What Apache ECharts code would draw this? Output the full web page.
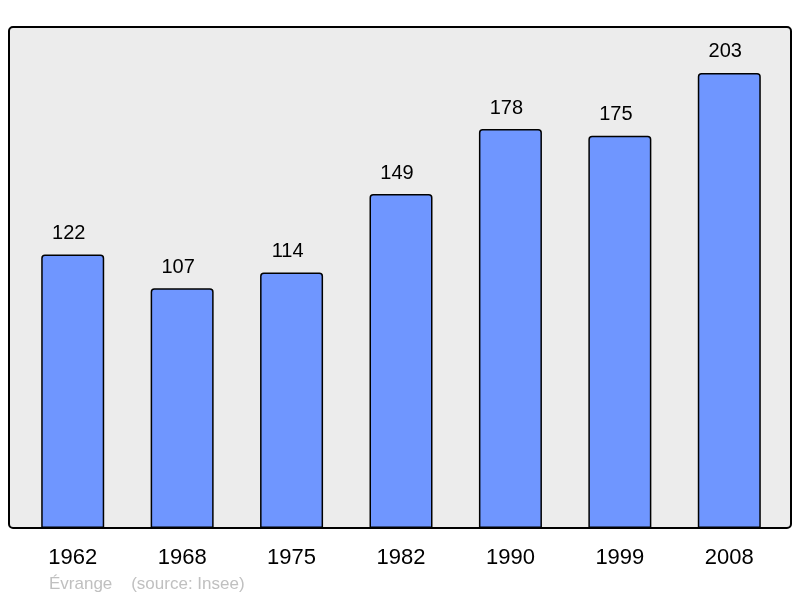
<!DOCTYPE html>
<html><head><meta charset="utf-8">
<script src="https://cdn.jsdelivr.net/npm/echarts@6/dist/echarts.min.js"></script>
<style>html,body{margin:0;padding:0;background:#fff}#c{width:800px;height:598px}</style>
</head><body><div id="c"></div>
<script>
var years = ['1962','1968','1975','1982','1990','1999','2008'];
var population = [122,107,114,149,178,175,203];
var footer = 'Évrange    (source: Insee)';

var chart = echarts.init(document.getElementById('c'), null, {renderer:'canvas'});
chart.setOption({
  animation:false,
  backgroundColor:'#ffffff',
  graphic:[
    {type:'rect', z:-10, shape:{x:9,y:27,width:782,height:501,r:4}, style:{fill:'#ececec',stroke:null}},
    {type:'rect', z:100, shape:{x:9,y:27,width:782,height:501,r:4}, style:{fill:null,stroke:'#000',lineWidth:2}},
    {type:'text', left:49, top:576, style:{text:footer, fill:'#c0c0c0', font:'17px "Liberation Sans", Arial, sans-serif'}}
  ],
  grid:{left:18,right:16,top:27,bottom:70},
  xAxis:{type:'category',data:years,
    axisLine:{show:false},axisTick:{show:false},
    axisLabel:{color:'#000',fontSize:22,fontFamily:'Liberation Sans, Arial, sans-serif',margin:19}},
  yAxis:{type:'value',min:0,max:223.5,show:false,splitLine:{show:false}},
  series:[{type:'bar',data:population,barWidth:63,
    itemStyle:{color:'#6f96ff',borderColor:'#000',borderWidth:1.5,borderRadius:[3,3,0,0]},
    label:{show:true,position:'top',distance:11,offset:[-4,0],color:'#000',fontSize:20,fontFamily:'Liberation Sans, Arial, sans-serif'}
  }]
});
</script></body></html>
